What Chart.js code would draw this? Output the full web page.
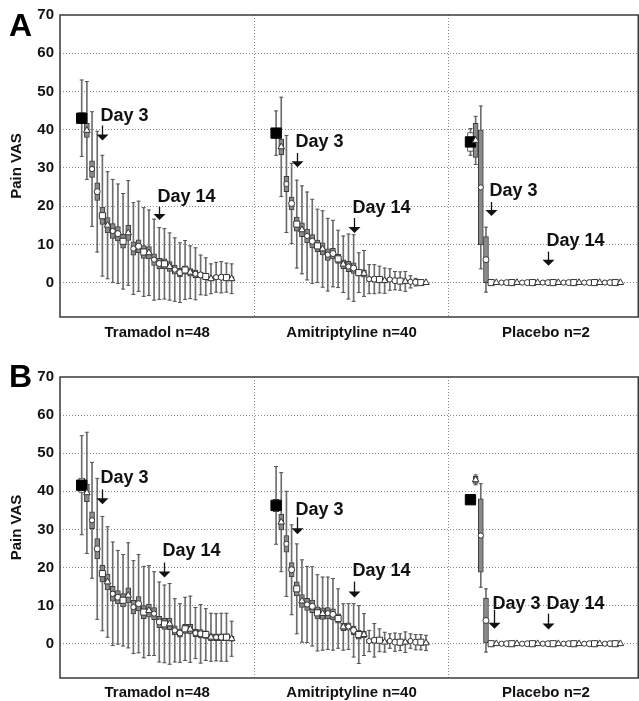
<!DOCTYPE html>
<html>
<head>
<meta charset="utf-8">
<script src="https://cdn.jsdelivr.net/npm/chart.js@4.4.1/dist/chart.umd.min.js"></script>
<style>
  html, body { margin: 0; padding: 0; background: #fff; }
  #wrap { position: relative; width: 639px; height: 701px; }
  canvas { position: absolute; left: 0; }
</style>
</head>
<body>
<div id="wrap">
  <canvas id="chartA" width="639" height="350" style="top:0"></canvas>
  <canvas id="chartB" width="639" height="351" style="top:350px"></canvas>
</div>
<script>
// groups and tick values
const groups = ['Tramadol n=48', 'Amitriptyline n=40', 'Placebo n=2'];
const groupN = [48, 40, 2];
const yTicks = [0, 10, 20, 30, 40, 50, 60, 70];

// Panel A - mean pain VAS and SD per time point (first = baseline)
const tramMeanA = [43, 39.8, 29.7, 23.8, 17.5, 15, 13.5, 12.8, 10.8, 13, 8.9, 9.5, 8, 7.8, 6, 5, 4.9, 4.2, 3.4, 2.6, 3.3, 2.7, 2.3, 2, 1.6, 1, 1.4, 1.4, 1.3, 1];
const tramSdA   = [10, 12.8, 15, 15.8, 15.8, 14, 13.5, 13, 12.5, 13.7, 12, 11.8, 11.6, 11.2, 10.6, 9.4, 9.2, 8.8, 8.3, 7.8, 7.7, 6.9, 6.8, 5.2, 4.9, 3.9, 3.9, 4.1, 3.8, 3.9];
const amiMeanA  = [39.1, 35.5, 25.8, 20.7, 15.3, 13.8, 12.2, 10.8, 9.6, 8.8, 7.3, 7.6, 6.2, 4.8, 4.2, 3.8, 2.6, 2.4, 0.9, 0.9, 0.8, 0.5, 0.8, 0.5, 0.4, 0.3, 0.2, 0.1, 0, 0];
const amiSdA    = [5.8, 13, 12.7, 10.5, 11.5, 11.5, 11.5, 11, 9.6, 10, 9.5, 8.7, 7.5, 7.4, 8.5, 8.7, 5.2, 6, 3.8, 3.8, 3.5, 3.3, 2.8, 2.4, 2.4, 2.6, 1.6, 1, 0, 0];
const placMeanA = [36.8, 37.2, 24.9, 6, 0, 0, 0, 0, 0, 0, 0, 0, 0, 0, 0, 0, 0, 0, 0, 0, 0, 0, 0, 0, 0, 0, 0, 0, 0, 0];
const placSdA   = [3.5, 6.3, 21.3, 8.5, 0, 0, 0, 0, 0, 0, 0, 0, 0, 0, 0, 0, 0, 0, 0, 0, 0, 0, 0, 0, 0, 0, 0, 0, 0, 0];

// Panel B
const tramMeanB = [41.6, 39.6, 32.4, 24.9, 18.4, 16.2, 13.1, 12.2, 11.4, 12.7, 9.6, 10.5, 8.3, 8.7, 7.9, 5.7, 5.2, 5.2, 3.5, 2.8, 3.9, 3.8, 2.8, 2.6, 2.4, 1.7, 1.7, 1.7, 1.7, 1.3];
const tramSdB   = [13, 15.9, 15.2, 18.5, 15, 14.5, 13.6, 12.3, 12, 13.8, 12.2, 12.9, 12, 11.8, 11, 10.5, 10.2, 10.6, 8.3, 7.7, 8.3, 8.7, 6.7, 7.7, 6.8, 6.3, 6.2, 6.3, 6.3, 4.6];
const amiMeanB  = [36.3, 31.9, 26.2, 19.4, 14.4, 11.2, 10.3, 9.8, 8.1, 7.9, 8, 7.7, 6.6, 4.4, 4.5, 3.5, 2.4, 2.4, 0.7, 0.9, 0.9, 0.4, 0.7, 0.4, 0.4, 0.4, 0.7, 0.4, 0.4, 0.2];
const amiSdB    = [10.2, 13, 13.8, 11.8, 11.8, 10.8, 10, 10.4, 10, 9.6, 9.5, 9.4, 7.8, 6.1, 6, 7, 7.6, 5.5, 2.8, 4.4, 3, 2.6, 1.9, 2.4, 2.2, 2.7, 1.9, 2, 2, 2];
const placMeanB = [37.8, 43, 28.4, 6.1, 0, 0, 0, 0, 0, 0, 0, 0, 0, 0, 0, 0, 0, 0, 0, 0, 0, 0, 0, 0, 0, 0, 0, 0, 0, 0];
const placSdB   = [0, 1.3, 13.6, 8.3, 0, 0, 0, 0, 0, 0, 0, 0, 0, 0, 0, 0, 0, 0, 0, 0, 0, 0, 0, 0, 0, 0, 0, 0, 0, 0];

// Day markers: group, point index, label y, arrow top, arrow tip (VAS units)
const arrowsA = [
  { g: 0, i: 4,  label: 'Day 3',  text: 43.7, top: 41.1, tip: 37.2 },
  { g: 0, i: 15, label: 'Day 14', text: 22.4, top: 19.8, tip: 16.4 },
  { g: 1, i: 4,  label: 'Day 3',  text: 36.7, top: 33.9, tip: 30.2 },
  { g: 1, i: 15, label: 'Day 14', text: 19.5, top: 16.9, tip: 13 },
  { g: 2, i: 4,  label: 'Day 3',  text: 24,   top: 21.1, tip: 17.4 },
  { g: 2, i: 15, label: 'Day 14', text: 10.9, top: 8.1,  tip: 4.4 }
];
const arrowsB = [
  { g: 0, i: 4,  label: 'Day 3',  text: 43.4, top: 40.5, tip: 36.6 },
  { g: 0, i: 16, label: 'Day 14', text: 24.2, top: 21.3, tip: 17.4 },
  { g: 1, i: 4,  label: 'Day 3',  text: 35,   top: 33.2, tip: 28.7 },
  { g: 1, i: 15, label: 'Day 14', text: 19.2, top: 16.3, tip: 12.1 },
  { g: 2, i: 4.5, label: 'Day 3', text: 10.5, top: 8.9,  tip: 3.9 },
  { g: 2, i: 15, label: 'Day 14', text: 10.5, top: 7.9,  tip: 3.7 }
];

// x layout (in point-spacing units)
const GROUP_W = 37.6;
const FIRST_OFFSET = 4.2;
const X_MAX = 112;
const FONT = '"Liberation Sans", Arial, Helvetica, sans-serif';

function xPos(g, i) { return g * GROUP_W + FIRST_OFFSET + i; }

// marker shape cycles every 4 readings
const markerCycle = ['rect', 'triangle', 'circle', 'circle'];
const markerRadius = { rect: 4.3, triangle: 3.8, circle: 3 };

const framePlugin = {
  id: 'frame',
  afterDraw(chart, args, opts) {
    const { ctx, chartArea: a } = chart;
    ctx.save();
    ctx.strokeStyle = '#3a3a3a';
    ctx.lineWidth = 1.5;
    ctx.strokeRect(a.left, a.top, a.right - a.left - 0.75, a.bottom - a.top);
    ctx.fillStyle = '#000';
    ctx.font = 'bold 32px ' + FONT;
    ctx.textBaseline = 'alphabetic';
    ctx.fillText(opts.letter, 9, opts.letterY);
    ctx.restore();
  }
};

const arrowPlugin = {
  id: 'dayArrows',
  afterDatasetsDraw(chart, args, opts) {
    const { ctx, scales: { x, y } } = chart;
    ctx.save();
    ctx.fillStyle = '#111';
    ctx.strokeStyle = '#111';
    ctx.font = 'bold 18px ' + FONT;
    ctx.textBaseline = 'middle';
    opts.items.forEach(a => {
      const px = Math.round(x.getPixelForValue(xPos(a.g, a.i))) + 0.5;
      const tip = y.getPixelForValue(a.tip);
      const top = y.getPixelForValue(a.top);
      ctx.fillText(a.label, px - 2, y.getPixelForValue(a.text));
      ctx.lineWidth = 1.3;
      ctx.beginPath();
      ctx.moveTo(px, top);
      ctx.lineTo(px, tip - 5);
      ctx.stroke();
      ctx.beginPath();
      ctx.moveTo(px - 6, tip - 6);
      ctx.lineTo(px + 6, tip - 6);
      ctx.lineTo(px, tip);
      ctx.closePath();
      ctx.fill();
    });
    ctx.restore();
  }
};

function buildPanel(canvasId, means, sds, arrows, layout) {
  const stems = [], caps = [], boxes = [], baseBoxes = [], marks = [];
  const styles = [], radii = [], fills = [], borders = [];
  means.forEach((series, g) => {
    series.forEach((v, i) => {
      const x = xPos(g, i);
      const sd = sds[g][i];
      const se = sd / Math.sqrt(groupN[g]);
      if (sd > 0) {
        stems.push({ x, y: [v - sd, v + sd] });
        caps.push({ x, y: v - sd }, { x, y: v + sd });
        if (i === 0) baseBoxes.push({ x, y: [v - se, v + se] });
        else boxes.push({ x, y: [v - se, v + se] });
      }
      marks.push({ x, y: v });
      if (i === 0) {
        styles.push('rect'); radii.push(7.3); fills.push('#000'); borders.push('#000');
      } else {
        const s = markerCycle[i % 4];
        styles.push(s);
        radii.push(i % 4 === 2 ? 2.6 : markerRadius[s]);
        fills.push('#fff');
        borders.push('#333');
      }
    });
  });

  return new Chart(document.getElementById(canvasId), {
    type: 'scatter',
    data: {
      datasets: [
        {
          type: 'bar', data: stems, grouped: false, barThickness: 1,
          backgroundColor: '#6e6e6e', borderWidth: 0, order: 5
        },
        {
          data: caps, pointStyle: 'line', pointRadius: 2, borderColor: '#555',
          pointBorderWidth: 1, order: 4
        },
        {
          type: 'bar', data: baseBoxes, grouped: false, barThickness: 6,
          backgroundColor: '#fff', borderColor: '#444', borderWidth: 1,
          borderSkipped: false, order: 3
        },
        {
          type: 'bar', data: boxes, grouped: false, barThickness: 5,
          backgroundColor: '#8a8a8a', borderColor: '#3c3c3c', borderWidth: 1,
          borderSkipped: false, order: 2
        },
        {
          data: marks, pointStyle: styles, pointRadius: radii,
          pointBackgroundColor: fills, pointBorderColor: borders,
          pointBorderWidth: 1, order: 1
        }
      ]
    },
    options: {
      responsive: false,
      animation: false,
      events: [],
      layout: { autoPadding: false, padding: { top: layout.top, left: 0, right: 0, bottom: 0 } },
      plugins: {
        legend: { display: false },
        tooltip: { enabled: false },
        frame: { letter: layout.letter, letterY: layout.letterY },
        dayArrows: { items: arrows }
      },
      scales: {
        x: {
          type: 'linear',
          min: 0,
          max: X_MAX,
          offset: false,
          afterFit: s => { s.height = layout.xHeight; },
          afterBuildTicks: s => {
            s.ticks = [0.5, 1, 1.5, 2, 2.5].map(k => ({ value: k * GROUP_W }));
          },
          grid: {
            offset: false,
            drawTicks: false,
            lineWidth: 1,
            color: c => (c.tick && c.index % 2 === 1) ? '#8a8a8a' : 'rgba(0,0,0,0)'
          },
          border: { display: false, dash: [1, 2] },
          ticks: {
            autoSkip: false,
            maxRotation: 0,
            padding: layout.xPad,
            color: '#111',
            font: { family: FONT, size: 15, weight: 'bold' },
            callback: (v, i) => (i % 2 === 0 ? groups[i / 2] : '')
          }
        },
        y: {
          min: -9,
          max: 70,
          afterFit: s => { s.width = 60; },
          afterBuildTicks: s => { s.ticks = yTicks.map(v => ({ value: v })); },
          grid: {
            drawTicks: false,
            lineWidth: 1,
            color: c => (c.tick && c.tick.value === 70) ? 'rgba(0,0,0,0)' : '#8a8a8a'
          },
          border: { display: false, dash: [1, 2] },
          ticks: {
            padding: 6,
            color: '#111',
            font: { family: FONT, size: 15, weight: 'bold' }
          },
          title: {
            display: true,
            text: 'Pain VAS',
            color: '#111',
            padding: { top: 8, bottom: 0 },
            font: { family: FONT, size: 15, weight: 'bold' }
          }
        }
      }
    },
    plugins: [framePlugin, arrowPlugin]
  });
}

buildPanel('chartA', [tramMeanA, amiMeanA, placMeanA], [tramSdA, amiSdA, placSdA], arrowsA,
  { top: 14, xHeight: 33, xPad: 7, letter: 'A', letterY: 36 });
buildPanel('chartB', [tramMeanB, amiMeanB, placMeanB], [tramSdB, amiSdB, placSdB], arrowsB,
  { top: 27, xHeight: 23, xPad: 6, letter: 'B', letterY: 37 });
</script>
</body>
</html>
